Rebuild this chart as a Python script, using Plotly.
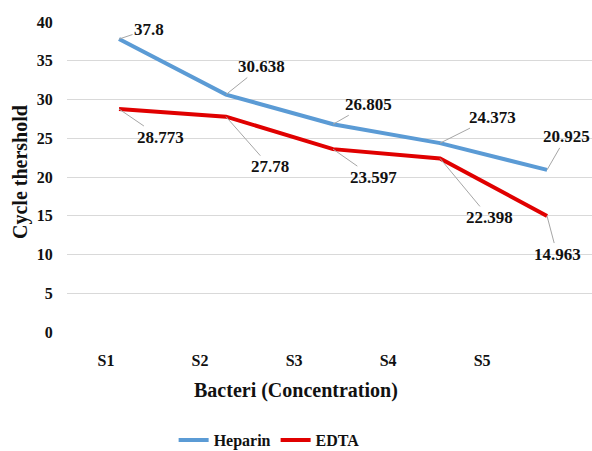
import plotly.graph_objects as go

# Sample concentrations and measured cycle thresholds
categories = ["S1", "S2", "S3", "S4", "S5"]
heparin = [37.8, 30.638, 26.805, 24.373, 20.925]
edta = [28.773, 27.78, 23.597, 22.398, 14.963]

# Label offsets (px) for the callouts of each series
heparin_off = [(30, -10), (35, -28), (35, -20), (52, -26), (19, -33)]
edta_off = [(41, 28), (44, 50), (40, 28), (49, 59), (10, 38)]

y_ticks = [0, 5, 10, 15, 20, 25, 30, 35, 40]

FONT = "Liberation Serif"
BLUE = "#5B9BD5"
RED = "#E00000"

idx = list(range(len(categories)))
# category labels sit on a slightly tighter pitch than the line vertices
label_pitch, label_shift = 0.8785, -0.121
label_pos = [i * label_pitch + label_shift for i in idx]

fig = go.Figure()
fig.add_trace(go.Scatter(x=idx, y=heparin, mode="lines", name="Heparin",
                         line=dict(color=BLUE, width=4)))
fig.add_trace(go.Scatter(x=idx, y=edta, mode="lines", name="EDTA",
                         line=dict(color=RED, width=4)))

annotations = []
for vals, offs in ((heparin, heparin_off), (edta, edta_off)):
    for i, (v, (ax, ay)) in enumerate(zip(vals, offs)):
        annotations.append(dict(
            x=i, y=v, xref="x", yref="y", text=f"{v:g}",
            showarrow=True, arrowhead=0, arrowwidth=1, arrowcolor="#A6A6A6",
            ax=ax, ay=ay, standoff=0,
            font=dict(family=FONT, size=17, color="#111", weight="bold"),
        ))

annotations.append(dict(
    text="Bacteri (Concentration)", xref="paper", yref="paper",
    x=(296 - 67) / 525, y=(332 - 390) / 310, showarrow=False,
    xanchor="center", yanchor="middle",
    font=dict(family=FONT, size=20, color="#111", weight="bold")))
annotations.append(dict(
    text="Cycle thershold", xref="paper", yref="paper",
    x=(20 - 67) / 525, y=(332 - 172) / 310, showarrow=False,
    textangle=-90, xanchor="center", yanchor="middle",
    font=dict(family=FONT, size=20, color="#111", weight="bold")))

fig.update_layout(
    width=592, height=451,
    margin=dict(l=67, r=0, t=22, b=119, autoexpand=False),
    paper_bgcolor="white", plot_bgcolor="white",
    showlegend=True,
    legend=dict(orientation="h", x=0.385, y=(332 - 440) / 310,
                xanchor="center", yanchor="middle",
                font=dict(family=FONT, size=16, color="#111", weight="bold"),
                itemwidth=30),
    xaxis=dict(range=[-0.486, 4.42], tickvals=label_pos, ticktext=categories,
               showgrid=False, zeroline=False, showline=False,
               ticks="outside", ticklen=14, tickcolor="rgba(0,0,0,0)",
               tickfont=dict(family=FONT, size=16, color="#111", weight="bold")),
    yaxis=dict(range=[0, 40], tickvals=y_ticks, showgrid=True,
               gridcolor="#D9D9D9", gridwidth=1, zeroline=False,
               showline=False, ticks="outside", ticklen=10,
               tickcolor="rgba(0,0,0,0)",
               tickfont=dict(family=FONT, size=16, color="#111", weight="bold")),
    annotations=annotations,
)

fig.write_html("out.html")
